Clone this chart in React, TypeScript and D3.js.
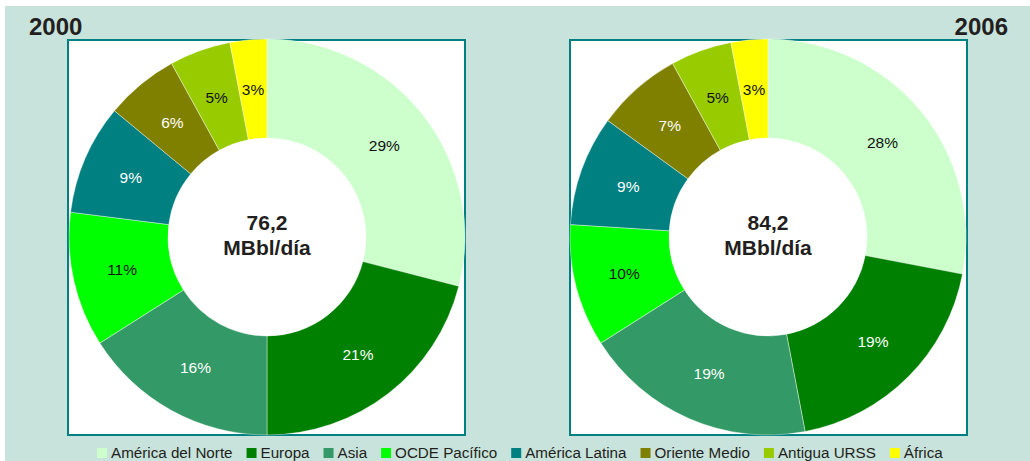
import React, { useRef, useEffect } from 'react';
import * as d3 from 'd3';

const regions = ['América del Norte', 'Europa', 'Asia', 'OCDE Pacífico', 'América Latina', 'Oriente Medio', 'Antigua URSS', 'África'];
const colors = ['#CCFFCC', '#008000', '#339966', '#00FF00', '#008080', '#808000', '#99CC00', '#FFFF00'];
const labelColors = ['#111', '#fff', '#fff', '#111', '#fff', '#fff', '#111', '#111'];
const values2000 = [29, 21, 16, 11, 9, 6, 5, 3];
const values2006 = [28, 19, 19, 10, 9, 7, 5, 3];
const totals = ['76,2', '84,2'];
const years = ['2000', '2006'];

const W = 1030;
const H = 461;
const FONT = 'Arial, "Liberation Sans", sans-serif';

const App: React.FC = () => {
  const ref = useRef<SVGSVGElement | null>(null);

  useEffect(() => {
    const svg = d3.select(ref.current);
    svg.selectAll('*').remove();

    // background
    svg.append('rect').attr('x', 5).attr('y', 6).attr('width', W - 5).attr('height', H - 6).attr('fill', '#C8E3DB');

    const panels = [
      { values: values2000, cx: 267, box: [68, 465] },
      { values: values2006, cx: 768, box: [570, 967] },
    ];
    const cy = 237;
    const outerR = 198;
    const innerR = 99;

    const pie = d3.pie<number>().sort(null).value(d => d);
    const arc = d3.arc<d3.PieArcDatum<number>>().innerRadius(innerR).outerRadius(outerR);

    panels.forEach((p, pi) => {
      svg.append('rect')
        .attr('x', p.box[0]).attr('y', 40)
        .attr('width', p.box[1] - p.box[0]).attr('height', 395)
        .attr('fill', '#fff').attr('stroke', '#008080').attr('stroke-width', 2);

      const g = svg.append('g').attr('transform', `translate(${p.cx},${cy})`);
      const arcs = pie(p.values);
      g.selectAll('path.slice').data(arcs).enter().append('path')
        .attr('class', 'slice')
        .attr('d', arc)
        .attr('fill', (_, i) => colors[i])
        .attr('stroke', '#fff').attr('stroke-width', 0.4);

      g.selectAll('text.lbl').data(arcs).enter().append('text')
        .attr('class', 'lbl')
        .attr('transform', d => `translate(${arc.centroid(d)})`)
        .attr('text-anchor', 'middle').attr('dy', '0.35em')
        .attr('font-family', FONT).attr('font-size', 15.5)
        .attr('fill', (_, i) => labelColors[i])
        .text(d => `${d.data}%`);

      g.append('text').attr('text-anchor', 'middle').attr('y', -7)
        .attr('font-family', FONT).attr('font-size', 21).attr('font-weight', 'bold').attr('fill', '#231F20')
        .text(totals[pi]);
      g.append('text').attr('text-anchor', 'middle').attr('y', 18)
        .attr('font-family', FONT).attr('font-size', 21).attr('font-weight', 'bold').attr('fill', '#231F20')
        .text('MBbl/día');
    });

    svg.append('text').attr('x', 29).attr('y', 35)
      .attr('font-family', FONT).attr('font-size', 24).attr('font-weight', 'bold').attr('fill', '#231F20')
      .text(years[0]);
    svg.append('text').attr('x', 1008).attr('y', 35).attr('text-anchor', 'end')
      .attr('font-family', FONT).attr('font-size', 24).attr('font-weight', 'bold').attr('fill', '#231F20')
      .text(years[1]);

    // legend, laid out left to right
    const legend = svg.append('g');
    let x = 97;
    const ly = 453;
    regions.forEach((r, i) => {
      legend.append('rect').attr('x', x).attr('y', ly - 5).attr('width', 10).attr('height', 10).attr('fill', colors[i]);
      const t = legend.append('text').attr('x', x + 14).attr('y', ly).attr('dy', '0.35em')
        .attr('font-family', FONT).attr('font-size', 15.2).attr('fill', '#231F20')
        .text(r);
      const tw = (t.node() as SVGTextElement).getComputedTextLength();
      x += 14 + tw + 14;
    });
  }, []);

  return <svg ref={ref} width={W} height={H} style={{ position: 'absolute', left: 0, top: 0 }} />;
};

export default App;
